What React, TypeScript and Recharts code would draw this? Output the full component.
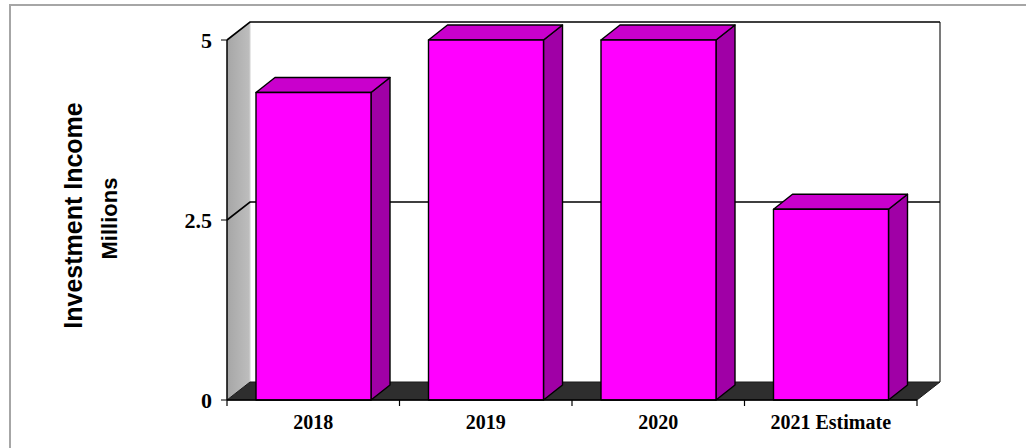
import React from 'react';
import { BarChart, Bar, XAxis, YAxis, ReferenceArea } from 'recharts';

const categories = ['2018', '2019', '2020', '2021 Estimate'];
const incomeMillions = [4.27, 5.0, 5.0, 2.65];
const yTicks = [0, 2.5, 5];
const yDomain: [number, number] = [0, 5];
const yTitle = 'Investment Income';
const ySubTitle = 'Millions';

const data = categories.map((name, i) => ({ name, value: incomeMillions[i] }));

const WALL_DX = 23;
const WALL_DY = 18;
const BAR_DX = 19;
const BAR_DY = 15;

const Frame = (p: any) => {
  const { x, y, width, height } = p;
  const x0 = x;
  const x1 = x + width;
  const yTop = y;
  const yBot = y + height;
  const n = categories.length;
  const ticks = Array.from({ length: n + 1 }, (_, i) => x0 + (i * width) / n);
  return (
    <g>
      <defs>
        <linearGradient id="sideWall" x1="0" y1="0" x2="1" y2="0">
          <stop offset="0" stopColor="#a6a6a6" />
          <stop offset="1" stopColor="#bebebe" />
        </linearGradient>
      </defs>
      <polygon
        points={`${x0},${yTop} ${x0 + WALL_DX},${yTop - WALL_DY} ${x0 + WALL_DX},${yBot - WALL_DY} ${x0},${yBot}`}
        fill="url(#sideWall)"
        stroke="none"
      />
      <line x1={x0 + WALL_DX} y1={yTop - WALL_DY} x2={x0 + WALL_DX} y2={yBot - WALL_DY} stroke="#d0d0d0" strokeWidth={1} />
      <line x1={x1 + WALL_DX} y1={yTop - WALL_DY} x2={x1 + WALL_DX} y2={yBot - WALL_DY} stroke="#7a7a7a" strokeWidth={2} />
      <polygon
        points={`${x0},${yBot} ${x1},${yBot} ${x1 + WALL_DX},${yBot - WALL_DY} ${x0 + WALL_DX},${yBot - WALL_DY}`}
        fill="#2e2e2e"
        stroke="#1a1a1a"
        strokeWidth={1}
      />
      {ticks.map((tx, i) => (
        <line key={i} x1={tx} y1={yBot} x2={tx} y2={yBot + 6} stroke="#000" strokeWidth={1.2} />
      ))}
    </g>
  );
};

const GridShape = (p: any) => {
  const { x, y, width } = p;
  return (
    <polyline
      points={`${x},${y} ${x + WALL_DX},${y - WALL_DY} ${x + width + WALL_DX},${y - WALL_DY}`}
      fill="none"
      stroke="#000"
      strokeWidth={1.6}
    />
  );
};

const Bar3D = (p: any) => {
  const { x, y, width, height } = p;
  if (!height) return null;
  const xr = x + width;
  const yb = y + height;
  return (
    <g stroke="#000" strokeWidth={1.4} strokeLinejoin="round">
      <polygon
        points={`${xr},${y} ${xr + BAR_DX},${y - BAR_DY} ${xr + BAR_DX},${yb - BAR_DY} ${xr},${yb}`}
        fill="#a000a6"
      />
      <polygon
        points={`${x},${y} ${x + BAR_DX},${y - BAR_DY} ${xr + BAR_DX},${y - BAR_DY} ${xr},${y}`}
        fill="#c900cc"
      />
      <rect x={x} y={y} width={width} height={height} fill="#ff00ff" />
    </g>
  );
};

const YTitle = (p: any) => {
  const vb = p.viewBox || { x: 0, y: 40, width: 227, height: 360 };
  const cy = vb.y + vb.height / 2;
  return (
    <g>
      <text
        x={vb.x + 73}
        y={cy - 4.5}
        transform={`rotate(-90 ${vb.x + 73} ${cy - 4.5})`}
        textAnchor="middle"
        dominantBaseline="central"
        fontFamily="'Liberation Sans', Arial, sans-serif"
        fontWeight="bold"
        fontSize={25}
        fill="#000"
      >
        {yTitle}
      </text>
      <text
        x={vb.x + 109}
        y={cy - 1.5}
        transform={`rotate(-90 ${vb.x + 109} ${cy - 1.5})`}
        textAnchor="middle"
        dominantBaseline="central"
        fontFamily="'Liberation Sans', Arial, sans-serif"
        fontWeight="bold"
        fontSize={22}
        fill="#000"
      >
        {ySubTitle}
      </text>
    </g>
  );
};

const tickStyle = {
  fontFamily: "'Liberation Serif', 'Times New Roman', serif",
  fontWeight: 'bold' as const,
  fontSize: 20,
  fill: '#000',
};

const yTickStyle = { ...tickStyle, fontSize: 22 };

export default function App() {
  return (
    <div
      style={{
        position: 'absolute',
        left: 0,
        top: 0,
        width: 1026,
        height: 448,
        overflow: 'hidden',
        background: '#fff',
      }}
    >
      <div
        style={{
          position: 'absolute',
          left: 9,
          top: 4,
          width: 1200,
          height: 600,
          border: '2px solid #a6a6a6',
        }}
      />
      <div style={{ position: 'absolute', left: 0, top: 0 }}>
        <BarChart
          width={1026}
          height={448}
          data={data}
          margin={{ top: 40, right: 109, bottom: 0, left: 0 }}
          barSize={115}
        >
          <ReferenceArea y1={yDomain[0]} y2={yDomain[1]} shape={Frame} ifOverflow="visible" />
          {yTicks
            .filter((t) => t > yDomain[0])
            .map((t) => (
              <ReferenceArea key={t} y1={t} y2={t} shape={GridShape} ifOverflow="visible" />
            ))}
          <XAxis
            dataKey="name"
            height={48}
            interval={0}
            tickLine={false}
            tickSize={0}
            tickMargin={15}
            axisLine={{ stroke: '#000', strokeWidth: 1.5 }}
            tick={tickStyle}
          />
          <YAxis
            width={227}
            domain={yDomain}
            ticks={yTicks}
            tickSize={6}
            tickMargin={9}
            tickLine={{ stroke: '#000' }}
            axisLine={{ stroke: '#000', strokeWidth: 1.5 }}
            tick={yTickStyle}
            label={{ content: YTitle }}
          />
          <Bar dataKey="value" shape={Bar3D} isAnimationActive={false} />
        </BarChart>
      </div>
    </div>
  );
}
